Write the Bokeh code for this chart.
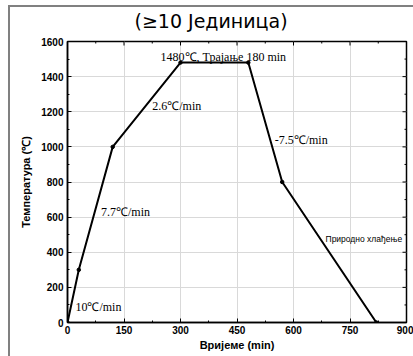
import math
from bokeh.plotting import figure
from bokeh.models import ColumnDataSource, Range1d, FixedTicker
from bokeh.core.properties import value
from bokeh.embed import file_html
from bokeh.resources import INLINE

# Firing schedule: time (min) vs furnace temperature (°C)
time_min = [0, 30, 120, 300, 480, 570, 820]
temp_c = [0, 300, 1000, 1480, 1480, 800, 0]

# Segment annotations (serif)
seg_text = ["10\u2103/min", "7.7\u2103/min", "2.6\u2103/min",
            "1480\u2103, Трајање  180 min", "-7.5\u2103/min"]
seg_x = [21, 89, 225, 247, 550]
seg_y = [91, 628, 1230, 1511, 1040]

cool_text = ["Природно хлађење"]
cool_x = [685]
cool_y = [476]

x_ticks = [0, 150, 300, 450, 600, 750, 900]
y_ticks = [0, 200, 400, 600, 800, 1000, 1200, 1400, 1600]
x_minor = [75, 225, 375, 525, 675, 825]
y_minor = [100, 300, 500, 700, 900, 1100, 1300, 1500]

title_text = "(\u226510 Јединица)"

X_MAX, Y_MAX = 900, 1600

p = figure(width=413, height=356, output_backend="svg", toolbar_location=None,
           x_range=Range1d(0, X_MAX), y_range=Range1d(0, Y_MAX),
           min_border_left=67, min_border_right=7, min_border_top=41,
           min_border_bottom=34, title=title_text)

# page frame: grey rule along the top and left edges, painted as the
# element background behind a transparent plot border
p.border_fill_alpha = 0
p.styles = {
    "background": ("linear-gradient(#808080, #808080) 8px 5px / 2px 100% no-repeat, "
                   "linear-gradient(#808080, #808080) 8px 5px / 100% 2px no-repeat, "
                   "#ffffff"),
}

p.title.align = "left"
p.title.offset = 67
p.title.vertical_align = "top"
p.title.standoff = 16
p.title.text_font = "DejaVu Sans"
p.title.text_font_style = "normal"
p.title.text_font_size = "19px"
p.title.text_color = "#000000"

p.outline_line_color = "#000000"
p.outline_line_width = 1.5
p.background_fill_color = "white"

for ax in (p.xaxis[0], p.yaxis[0]):
    ax.major_tick_in = 4
    ax.major_tick_out = 0
    ax.minor_tick_in = 2
    ax.minor_tick_out = 0
    ax.major_label_text_font = "Liberation Sans"
    ax.major_label_text_font_style = "bold"
    ax.major_label_text_font_size = "10px"
    ax.major_label_text_color = "#000000"
    ax.axis_label_text_font = "Liberation Sans"
    ax.axis_label_text_font_style = "bold"
    ax.axis_label_text_font_size = "11px"
    ax.axis_label_text_color = "#000000"
    ax.axis_line_color = "#000000"
    ax.axis_line_width = 1.5
    ax.major_tick_line_color = "#000000"
    ax.minor_tick_line_color = "#000000"

p.xaxis[0].ticker = FixedTicker(ticks=x_ticks, minor_ticks=x_minor)
p.yaxis[0].ticker = FixedTicker(ticks=y_ticks, minor_ticks=y_minor)
p.xaxis[0].axis_label = "Вријеме (min)"
p.yaxis[0].axis_label = "Температура (\u2103)"
p.xaxis[0].major_label_standoff = 3
p.yaxis[0].major_label_standoff = 4
p.xaxis[0].axis_label_standoff = 2
p.yaxis[0].axis_label_standoff = 6

p.xgrid.ticker = FixedTicker(ticks=x_ticks)
p.ygrid.ticker = FixedTicker(ticks=y_ticks)
p.grid.grid_line_color = "#d9d9d9"
p.grid.grid_line_width = 1

# mirrored inward ticks on the top and right edges (clipped to the frame)
p.scatter(x=x_ticks, y=[Y_MAX] * len(x_ticks), marker="dash", angle=math.pi / 2,
          size=8, line_color="#000000", line_width=1)
p.scatter(x=x_minor, y=[Y_MAX] * len(x_minor), marker="dash", angle=math.pi / 2,
          size=4, line_color="#000000", line_width=1)
p.scatter(x=[X_MAX] * len(y_ticks), y=y_ticks, marker="dash",
          size=8, line_color="#000000", line_width=1)
p.scatter(x=[X_MAX] * len(y_minor), y=y_minor, marker="dash",
          size=4, line_color="#000000", line_width=1)

src = ColumnDataSource(dict(t=time_min, T=temp_c))
p.line("t", "T", source=src, line_color="#000000", line_width=2)
p.scatter("t", "T", source=src, size=3.5, color="#000000")

p.text(x=seg_x, y=seg_y, text=seg_text, text_font=value("Liberation Serif"),
       text_font_size="12px", text_color="#000000", text_baseline="middle",
       text_align="left")
p.text(x=cool_x, y=cool_y, text=cool_text, text_font=value("Liberation Sans"),
       text_font_size="8.5px", text_color="#000000", text_baseline="middle",
       text_align="left")

open("out.html", "w").write(file_html(p, INLINE))
